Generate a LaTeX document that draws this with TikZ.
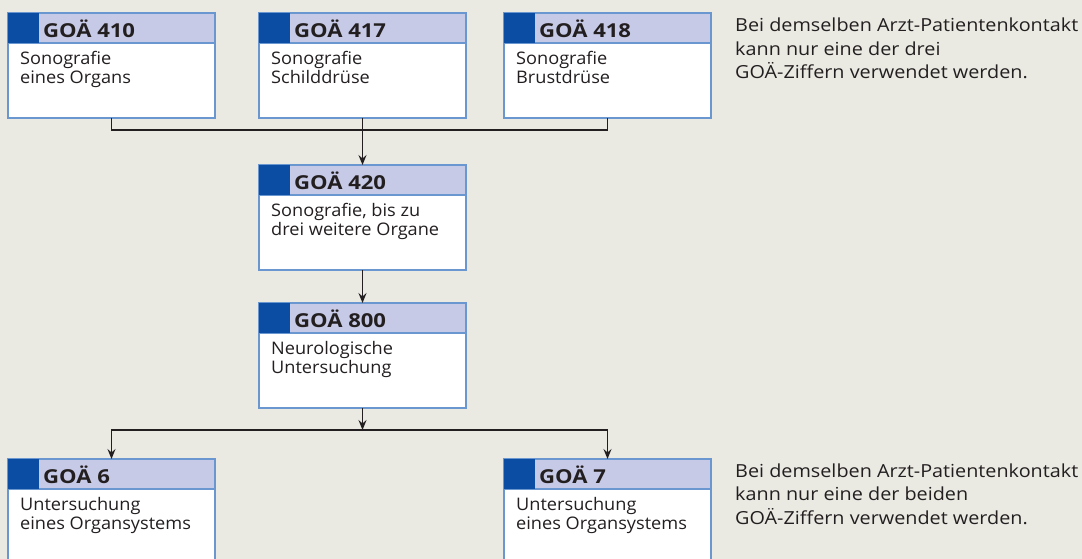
\documentclass[tikz,border=0pt]{standalone}
\usepackage{fontspec}
\setmainfont{Open Sans}
\newfontfamily\titlefont{Open Sans}[FakeStretch=1.15]
\newfontfamily\bodyfont{Open Sans}[FakeStretch=1.05]
\newfontfamily\notefont{Open Sans}[FakeStretch=1.1]
\usetikzlibrary{arrows.meta}
\definecolor{bg}{HTML}{EAE9E2}
\definecolor{hdr}{HTML}{C6CAE6}
\definecolor{dark}{HTML}{0B4DA2}
\definecolor{border}{HTML}{6B97D0}
\definecolor{ink}{HTML}{231F20}
\tikzset{
  box/.style={draw=border, line width=1.2pt, fill=white, minimum width=207pt, minimum height=105pt, inner sep=0pt, outer sep=0pt, anchor=north west},
  hdrbox/.style={draw=border, line width=1.2pt, fill=hdr},
  title/.style={anchor=base west, inner sep=0pt, text=ink, font=\titlefont\bfseries\fontsize{19.2}{20}\selectfont},
  body/.style={anchor=north west, inner sep=0pt, align=left, text=ink, font=\bodyfont\fontsize{17.3}{19.5}\selectfont},
  note/.style={anchor=north west, inner sep=0pt, align=left, text=ink, font=\notefont\fontsize{18}{23.5}\selectfont},
  conn/.style={draw=ink, line width=1.2pt},
  arr/.style={conn, -{Stealth[length=10pt, width=8pt, inset=3.5pt]}}
}
\newcommand\goabox[5]{%
  \node[box] (#1) at (#2,#3) {};
  \path[hdrbox] (#2,#3) rectangle (#2+207,#3+30);
  \fill[dark] (#2,#3) rectangle (#2+31,#3+30);
  \node[title] (#1t) at (#2+35,#3+24.5) {#4};
  \node[body] (#1b) at (#2+12,#3+37.5) {\strut #5};
}
\begin{document}
\begin{tikzpicture}[x=1pt,y=-1pt]
\useasboundingbox[fill=bg] (0,0) rectangle (1082,559);
\goabox{bA}{8}{13}{GOÄ 410}{Sonografie\\eines Organs}
\goabox{bB}{259}{13}{GOÄ 417}{Sonografie\\Schilddrüse}
\goabox{bC}{504}{13}{GOÄ 418}{Sonografie\\Brustdrüse}
\goabox{bD}{259}{165}{GOÄ 420}{Sonografie, bis zu\\drei weitere Organe}
\goabox{bE}{259}{303}{GOÄ 800}{Neurologische\\Untersuchung}
\goabox{bF}{8}{459}{GOÄ 6}{Untersuchung\\eines Organsystems}
\goabox{bG}{504}{459}{GOÄ 7}{Untersuchung\\eines Organsystems}
\node[note] (n1) at (735,15) {\strut Bei demselben Arzt-Patientenkontakt\\kann nur eine der drei\\GOÄ-Ziffern verwendet werden.};
\node[note] (n2) at (735,460.5) {\strut Bei demselben Arzt-Patientenkontakt\\kann nur eine der beiden\\GOÄ-Ziffern verwendet werden.};
\coordinate (j1) at (362.5,130);
\coordinate (j2) at (362.5,430);
\draw[conn] (bA.south) |- (j1) -| (bC.south);
\draw[arr] (bB.south) -- (bD.north);
\draw[arr] (bD.south) -- (bE.north);
\draw[arr] (bE.south) -- (j2);
\draw[arr] (j2) -| (bF.north);
\draw[arr] (j2) -| (bG.north);
\end{tikzpicture}
\end{document}
